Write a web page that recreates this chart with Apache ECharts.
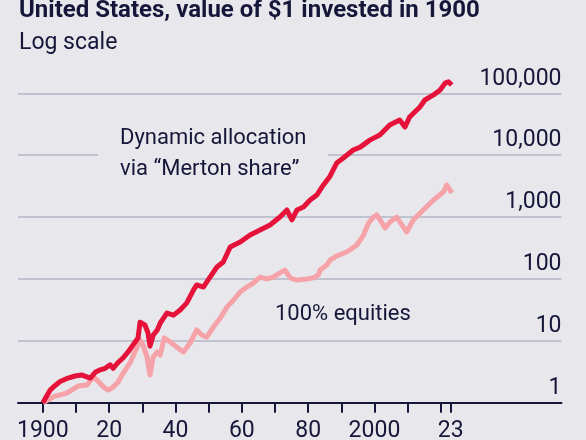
<!DOCTYPE html>
<html lang="en">
<head>
    <meta charset="UTF-8">
    <title>United States, value of $1 invested in 1900</title>
    <style>
        html, body {margin: 0; padding: 0; background: #e8e8ec;}
        #container {width: 586px; height: 440px;}
    </style>
</head>
<body>
<div id="container"></div>
<script type="text/javascript" src="https://cdn.jsdelivr.net/npm/echarts@6/dist/echarts.min.js"></script>
<script type="text/javascript">
    // dynamic allocation via "Merton share"
    var dynYears = [1900, 1902.2, 1903.7, 1905.2, 1907.6, 1909.7, 1911.8, 1914.3, 1915.8, 1917.3,
        1918.8, 1920.3, 1921.2, 1922.7, 1924.2, 1925.7, 1927.2, 1928.7, 1929.3, 1930.8,
        1931.7, 1932.3, 1933.3, 1934.5, 1935.4, 1937.4, 1939.4, 1941.4, 1943.4, 1945.4,
        1946.4, 1948.4, 1950.4, 1952.5, 1954.4, 1956.5, 1959.5, 1962.5, 1965.5, 1968.5,
        1971.5, 1973.6, 1975.1, 1976.6, 1978.6, 1980.6, 1982.6, 1984.6, 1986.6, 1988.6,
        1990.6, 1993.6, 1995.7, 1998.6, 2001.6, 2004.6, 2007.6, 2009.2, 2010.6, 2013.7,
        2015.2, 2017.8, 2019.8, 2021.3, 2022.3, 2023.3];
    var dynValues = [1.0, 1.6, 1.9, 2.2, 2.5, 2.7, 2.8, 2.5, 3.1, 3.4,
        3.6, 4.1, 3.6, 4.5, 5.3, 6.6, 8.6, 11.1, 20, 18,
        13.4, 8.2, 12.4, 15, 19.4, 28, 26, 31.5, 41, 66,
        80, 74, 107, 156, 188, 328, 395, 513, 618, 745,
        1000, 1300, 900, 1300, 1450, 1880, 2270, 3300, 4570, 7470,
        9000, 12100, 13500, 17500, 21200, 30700, 37000, 28500, 41400, 60100,
        78000, 94000, 113000, 146000, 154000, 136000];

    // 100% equities
    var eqYears = [1900, 1903.7, 1907.2, 1910.6, 1913.3, 1915.2, 1916.3, 1918.3, 1919.7, 1921.2,
        1922.7, 1924.2, 1926.3, 1928.4, 1929.3, 1930.2, 1931.4, 1932.3, 1933.3, 1934.5,
        1935.4, 1936.6, 1938.4, 1940.4, 1942.4, 1944.4, 1946.4, 1947.9, 1949.4, 1951.4,
        1953.5, 1955.5, 1957.5, 1959.5, 1961.5, 1963.5, 1965.5, 1967.5, 1969.5, 1971.5,
        1973, 1974.6, 1976.6, 1979.6, 1981.6, 1983.1, 1983.6, 1985.6, 1986.6, 1988.6,
        1991.6, 1994.7, 1996.7, 1998.2, 1999.7, 2000.7, 2001.7, 2003.2, 2004.7, 2006.7,
        2008.7, 2009.7, 2011.7, 2014.7, 2017.8, 2020.8, 2021.8, 2023.3];
    var eqValues = [1.0, 1.28, 1.43, 1.86, 1.93, 2.6, 2.33, 1.79, 1.6, 1.79,
        2.16, 3.0, 4.4, 7.9, 10.3, 8.6, 5.5, 2.8, 5.5, 6.6,
        5.9, 11.1, 9.6, 7.9, 6.6, 9.2, 15, 12.4, 11.5, 16.7,
        23.4, 35, 45.7, 61.5, 74, 86, 107, 100, 107, 125,
        139, 104, 96, 100, 104, 116, 139, 168, 202, 235,
        272, 354, 513, 800, 1000, 1080, 897, 665, 832, 1000,
        690, 574, 897, 1300, 1890, 2540, 3300, 2450];

    var tickYears = [1900, 1910, 1920, 1930, 1940, 1950, 1960, 1970, 1980, 1990, 2000, 2010, 2020, 2023];
    var labelYears = [1900, 1920, 1940, 1960, 1980, 2000, 2023];

    var ink = '#16163a';
    var font = 'Roboto, "Liberation Sans", sans-serif';

    function pairs(xs, ys) {
        return xs.map(function (x, i) { return [x, ys[i]]; });
    }

    var option = {
        backgroundColor: '#e8e8ec',
        animation: false,
        textStyle: {fontFamily: font, color: ink},
        grid: {left: 18, right: 24.5, top: 93.3, bottom: 37.3, containLabel: false, outerBoundsMode: 'none'},
        xAxis: {
            type: 'value',
            min: 1892.5,
            max: 2056.4,
            axisLine: {show: true, lineStyle: {color: ink, width: 2}},
            axisTick: {show: true, customValues: tickYears, length: 10, lineStyle: {color: ink, width: 2}},
            axisLabel: {
                customValues: labelYears,
                margin: 17,
                fontSize: 23,
                color: ink,
                fontFamily: font,
                formatter: function (v) {
                    return (v === 1900 || v === 2000) ? String(v) : String(v).slice(2);
                }
            },
            splitLine: {show: false}
        },
        yAxis: {
            type: 'log',
            logBase: 10,
            min: 1,
            max: 100000,
            position: 'right',
            axisLine: {show: false},
            axisTick: {show: false},
            axisLabel: {
                inside: true,
                margin: 0,
                fontSize: 23,
                color: ink,
                fontFamily: font,
                verticalAlign: 'bottom',
                padding: [0, 0, 3, 0],
                formatter: function (v) { return Number(v).toLocaleString('en-US'); }
            },
            splitLine: {show: true, lineStyle: {color: '#b4b6c6', width: 1.5}}
        },
        graphic: [
            {type: 'text', left: 19, top: -1.5, style: {text: 'United States, value of $1 invested in 1900', font: 'bold 24px ' + font, fill: ink}},
            {type: 'text', left: 19, top: 32, style: {text: 'Log scale', font: '23px ' + font, fill: ink}},
            // mask the gridline behind the annotation
            {type: 'rect', z: 1, shape: {x: 98, y: 150, width: 230, height: 10}, style: {fill: '#e8e8ec'}},
            {type: 'text', z: 3, left: 120, top: 127, style: {text: 'Dynamic allocation', font: '22px ' + font, fill: ink}},
            {type: 'text', z: 3, left: 120, top: 158, style: {text: 'via \u201cMerton share\u201d', font: '22px ' + font, fill: ink}},
            {type: 'text', z: 3, left: 275, top: 303, style: {text: '100% equities', font: '22px ' + font, fill: ink}}
        ],
        series: [
            {
                name: '100% equities',
                type: 'line',
                showSymbol: false,
                clip: false,
                z: 2,
                lineStyle: {color: '#f5a3a9', width: 5, join: 'round'},
                data: pairs(eqYears, eqValues)
            },
            {
                name: 'Dynamic allocation',
                type: 'line',
                showSymbol: false,
                clip: false,
                z: 3,
                lineStyle: {color: '#e5123a', width: 5, join: 'round'},
                data: pairs(dynYears, dynValues)
            }
        ]
    };

    var myChart = echarts.init(document.getElementById('container'));
    myChart.setOption(option);
</script>
</body>
</html>
